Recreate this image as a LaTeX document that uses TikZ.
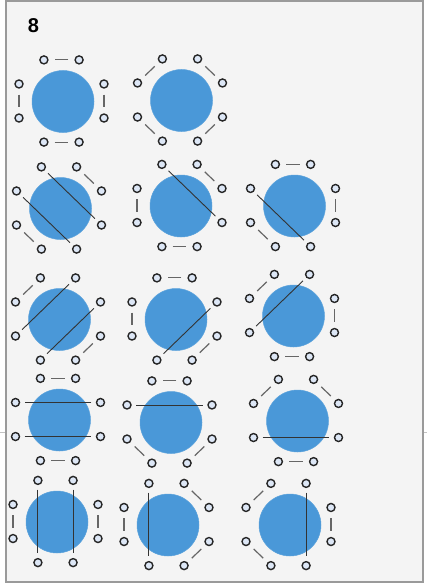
\documentclass[tikz,border=0pt]{standalone}
\usepackage{fontspec}
\setmainfont{Liberation Sans}
\definecolor{diskblue}{HTML}{4A98D8}
\definecolor{diskedge}{HTML}{5CA3DC}
\definecolor{vtxfill}{HTML}{DDE7F6}
\definecolor{bgfill}{HTML}{F4F4F4}
\definecolor{framecol}{HTML}{9A9A9A}
\tikzset{
  disk/.style={fill=diskblue,draw=diskedge,line width=0.5pt},
  vtx/.style={circle,draw=black!85,fill=vtxfill,line width=1.4pt,minimum size=8pt,inner sep=0pt},
  sideedge/.style={draw=black!60,line width=1.2pt,shorten >=6pt,shorten <=6pt},
  chordedge/.style={draw=black!80,line width=0.9pt,shorten >=4.5pt,shorten <=4.5pt},
}
\newcommand\mbase[4]{%
  \path[disk] (#2+1.5,#3+0.5) circle[radius=31pt];
  \foreach \k in {0,...,7} {\node[vtx] (#1\k) at ({#2+46*cos(22.5+45*\k)},{#3-44.5*sin(22.5+45*\k)}) {};}
  \foreach \i/\j in {#4} {\draw[sideedge] (#1\i) -- (#1\j);}
}
\newcommand\mchords[2]{%
  \foreach \i/\j in {#2} {\draw[chordedge] (#1\i) -- (#1\j);}
}
\begin{document}
\begin{tikzpicture}[x=1pt,y=-1pt]
\useasboundingbox (0,0) rectangle (427,586);
\path[fill=white] (0,0) rectangle (427,586);
\draw[framecol,line width=2pt,fill=bgfill] (6,1.5) rectangle (423,582);
\draw[framecol!60,line width=0.6pt] (0,432) -- (5,432);
\draw[framecol!60,line width=0.6pt] (424,432) -- (427,432);
\node[font=\fontsize{20}{24}\selectfont\bfseries] (title) at (33.5,26) {8};
% row 1
\mbase{a}{61.5}{101}{1/2,0/7,5/6,3/4}
\mbase{b}{180}{100}{2/3,0/1,6/7,4/5}
% row 2
\mbase{c}{59}{208}{0/1,4/5}
\mchords{c}{2/7,3/6}
\mbase{d}{179.5}{205.5}{0/1,3/4,5/6}
\mchords{d}{2/7}
\mbase{e}{293}{205.5}{1/2,0/7,4/5}
\mchords{e}{3/6}
% row 3
\mbase{f}{58}{319}{2/3,6/7}
\mchords{f}{1/4,0/5}
\mbase{g}{174.5}{319}{1/2,3/4,6/7}
\mchords{g}{0/5}
\mbase{h}{292}{315.5}{2/3,0/7,5/6}
\mchords{h}{1/4}
% row 4
\mbase{i}{58}{419.5}{1/2,5/6}
\mchords{i}{0/3,4/7}
\mbase{j}{169.5}{422}{1/2,4/5,6/7}
\mchords{j}{0/3}
\mbase{k}{296}{420.5}{2/3,0/1,5/6}
\mchords{k}{4/7}
% row 5
\mbase{l}{55.5}{521.5}{3/4,0/7}
\mchords{l}{2/5,1/6}
\mbase{m}{166.5}{524.5}{3/4,0/1,6/7}
\mchords{m}{2/5}
\mbase{n}{288.5}{524.5}{2/3,0/7,4/5}
\mchords{n}{1/6}
\end{tikzpicture}
\end{document}
